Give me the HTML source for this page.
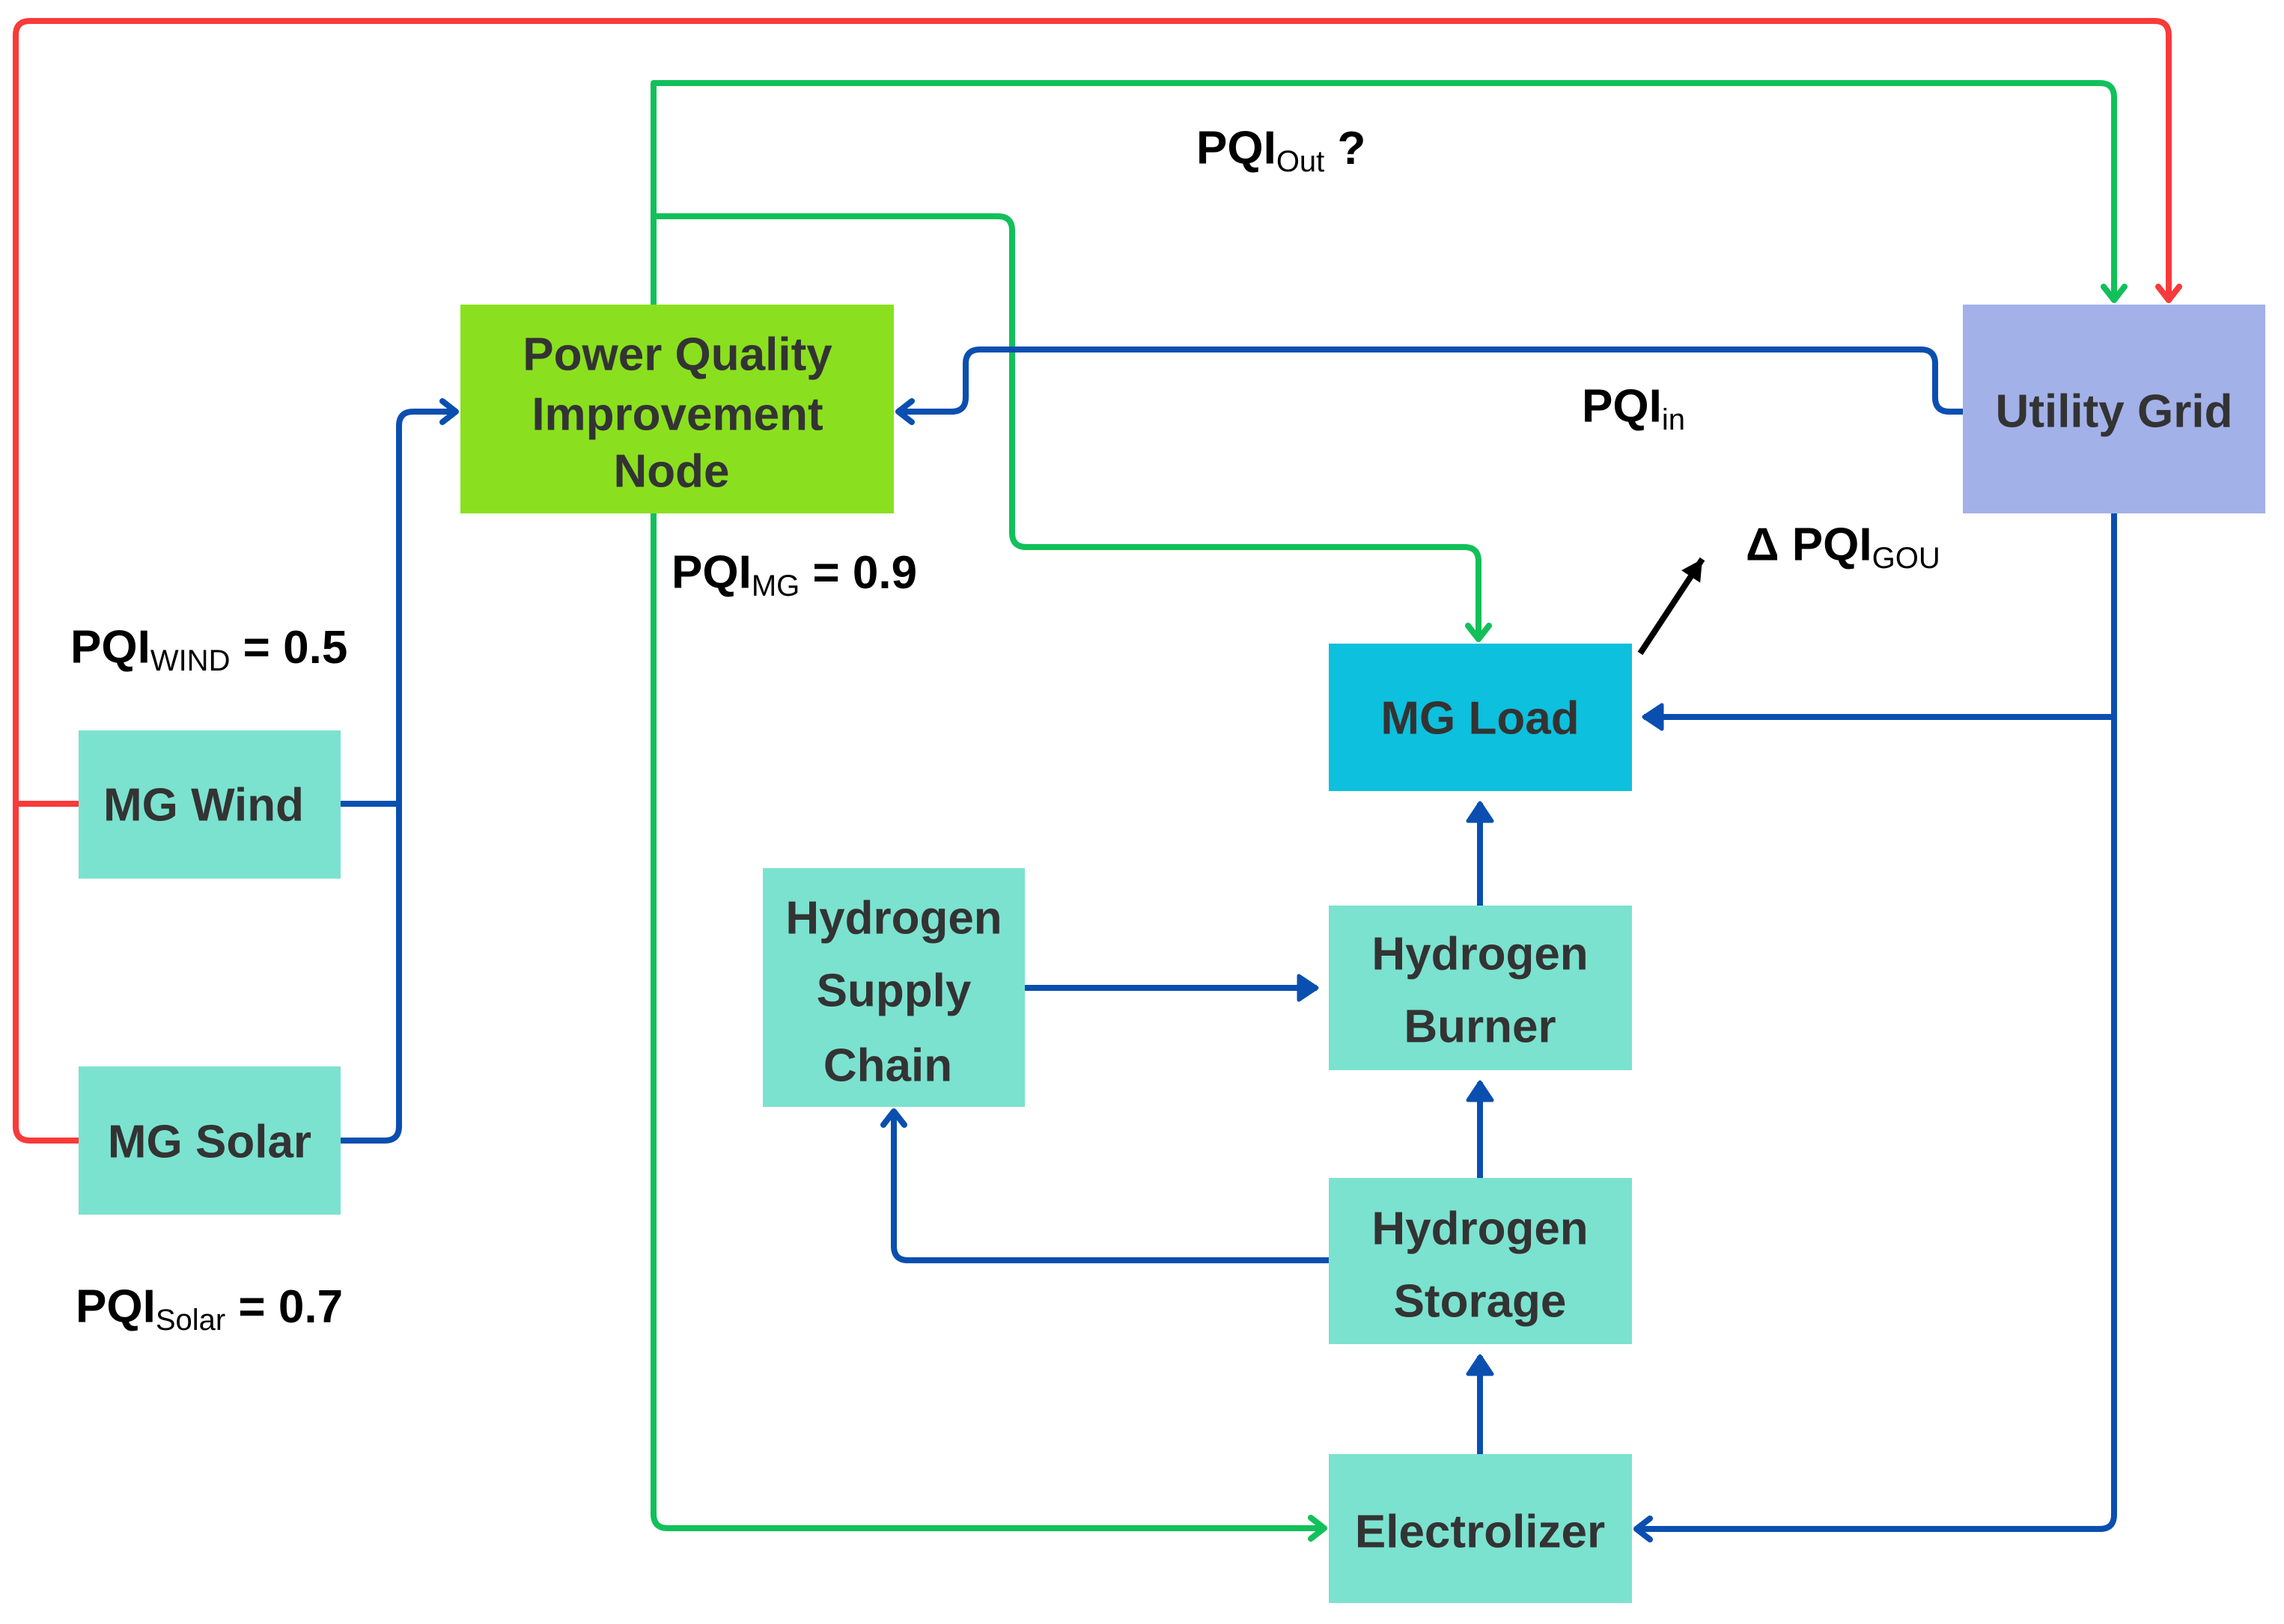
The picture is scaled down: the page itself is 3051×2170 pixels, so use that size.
<!DOCTYPE html>
<html><head><meta charset="utf-8"><style>
html,body{margin:0;padding:0;background:#fff}
svg{display:block}
.b{font-family:"Liberation Sans",sans-serif;font-weight:bold;fill:#333;font-size:62px;text-anchor:middle;dominant-baseline:central}
.l{font-family:"Liberation Sans",sans-serif;font-weight:bold;fill:#000;font-size:62px;dominant-baseline:central}
.s{font-size:40px;font-weight:normal}
</style></head><body>
<svg width="3051" height="2170" viewBox="0 0 3051 2170" xmlns="http://www.w3.org/2000/svg">
<defs>
<marker id="or" markerWidth="10" markerHeight="10" refX="8" refY="5" orient="auto" markerUnits="userSpaceOnUse" viewBox="0 0 10 10" style="overflow:visible"><path d="M-18,-14 L0,0 L-18,14" transform="translate(8,5)" fill="none" stroke="#f93a3a" stroke-width="8" stroke-linecap="round" stroke-linejoin="round"/></marker>
<marker id="og" markerWidth="10" markerHeight="10" refX="8" refY="5" orient="auto" markerUnits="userSpaceOnUse" viewBox="0 0 10 10" style="overflow:visible"><path d="M-18,-14 L0,0 L-18,14" transform="translate(8,5)" fill="none" stroke="#12c05a" stroke-width="8" stroke-linecap="round" stroke-linejoin="round"/></marker>
<marker id="ob" markerWidth="10" markerHeight="10" refX="8" refY="5" orient="auto" markerUnits="userSpaceOnUse" viewBox="0 0 10 10" style="overflow:visible"><path d="M-18,-14 L0,0 L-18,14" transform="translate(8,5)" fill="none" stroke="#0a4fb0" stroke-width="8" stroke-linecap="round" stroke-linejoin="round"/></marker>
<marker id="fb" markerWidth="10" markerHeight="10" refX="8" refY="5" orient="auto" markerUnits="userSpaceOnUse" viewBox="0 0 10 10" style="overflow:visible"><path d="M-24,-16 L0,0 L-24,16 Z" transform="translate(8,5)" fill="#0a4fb0" stroke="#0a4fb0" stroke-width="5" stroke-linejoin="round"/></marker>
<marker id="fk" markerWidth="10" markerHeight="10" refX="8" refY="5" orient="auto" markerUnits="userSpaceOnUse" viewBox="0 0 10 10" style="overflow:visible"><path d="M-28,-15 L0,0 L-28,15 Z" transform="translate(8,5)" fill="#000"/></marker>
</defs>
<g fill="none" stroke-width="8" stroke-linejoin="round">
<path d="M105,1524 H40 Q21,1524 21,1505 V47 Q21,28 40,28 H2878 Q2897,28 2897,47 V401" stroke="#f93a3a" marker-end="url(#or)"/>
<path d="M105,1074 H21" stroke="#f93a3a"/>
<path d="M1769,2042 H892 Q873,2042 873,2023 V111 H2805 Q2824,111 2824,130 V401" stroke="#12c05a" marker-end="url(#og)"/>
<path d="M1700,2042 H1769" stroke="#12c05a" marker-end="url(#og)"/>
<path d="M873,289 H1333 Q1352,289 1352,308 V712 Q1352,731 1371,731 H1956 Q1975,731 1975,750 V854" stroke="#12c05a" marker-end="url(#og)"/>
<path d="M454,1074 H533" stroke="#0a4fb0"/>
<path d="M455,1524 H514 Q533,1524 533,1505 V569 Q533,550 552,550 H609" stroke="#0a4fb0" marker-end="url(#ob)"/>
<path d="M2622,550 H2604 Q2585,550 2585,531 V486 Q2585,467 2566,467 H1309 Q1290,467 1290,486 V531 Q1290,550 1271,550 H1200" stroke="#0a4fb0" marker-end="url(#ob)"/>
<path d="M2824,686 V2024 Q2824,2043 2805,2043 H2186" stroke="#0a4fb0" marker-end="url(#ob)"/>
<path d="M2824,958 H2196" stroke="#0a4fb0" marker-end="url(#fb)"/>
<path d="M1369,1320 H1759" stroke="#0a4fb0" marker-end="url(#fb)"/>
<path d="M1775,1684 H1213 Q1194,1684 1194,1665 V1485" stroke="#0a4fb0" marker-end="url(#ob)"/>
<path d="M1977,1210 V1073" stroke="#0a4fb0" marker-end="url(#fb)"/>
<path d="M1977,1574 V1446" stroke="#0a4fb0" marker-end="url(#fb)"/>
<path d="M1977,1943 V1812" stroke="#0a4fb0" marker-end="url(#fb)"/>
<path d="M2191,873 L2274,747" stroke="#000" stroke-width="8" marker-end="url(#fk)"/>
</g>
<rect x="615" y="407" width="579" height="279" fill="#8ae01e"/>
<rect x="2622" y="407" width="404" height="279" fill="#a3b1e9"/>
<rect x="1775" y="860" width="405" height="197" fill="#0dc0dd"/>
<rect x="105" y="976" width="350" height="198" fill="#7be2cf"/>
<rect x="105" y="1425" width="350" height="198" fill="#7be2cf"/>
<rect x="1019" y="1160" width="350" height="319" fill="#7be2cf"/>
<rect x="1775" y="1210" width="405" height="220" fill="#7be2cf"/>
<rect x="1775" y="1574" width="405" height="222" fill="#7be2cf"/>
<rect x="1775" y="1943" width="405" height="199" fill="#7be2cf"/>
<text class="b" x="905" y="474">Power Quality</text>
<text class="b" x="905" y="554">Improvement</text>
<text class="b" x="897" y="630">Node</text>
<text class="b" x="2824" y="550">Utility Grid</text>
<text class="b" x="1977" y="960">MG Load</text>
<text class="b" x="272" y="1076">MG Wind</text>
<text class="b" x="280" y="1526">MG Solar</text>
<text class="b" x="1194" y="1227">Hydrogen</text>
<text class="b" x="1194" y="1324">Supply</text>
<text class="b" x="1186" y="1424">Chain</text>
<text class="b" x="1977" y="1275">Hydrogen</text>
<text class="b" x="1977" y="1372">Burner</text>
<text class="b" x="1977" y="1642">Hydrogen</text>
<text class="b" x="1977" y="1739">Storage</text>
<text class="b" x="1977" y="2047">Electrolizer</text>
<text class="l" x="94" y="865">PQI<tspan class="s" dy="18">WIND</tspan><tspan dy="-18"> = 0.5</tspan></text>
<text class="l" x="897" y="765">PQI<tspan class="s" dy="18">MG</tspan><tspan dy="-18"> = 0.9</tspan></text>
<text class="l" x="101" y="1746">PQI<tspan class="s" dy="18">Solar</tspan><tspan dy="-18"> = 0.7</tspan></text>
<text class="l" x="1598" y="198">PQI<tspan class="s" dy="18">Out</tspan><tspan dy="-18"> ?</tspan></text>
<text class="l" x="2113" y="543">PQI<tspan class="s" dy="18">in</tspan></text>
<text class="l" x="2332" y="728">Δ PQI<tspan class="s" dy="18">GOU</tspan></text>
</svg>
</body></html>
